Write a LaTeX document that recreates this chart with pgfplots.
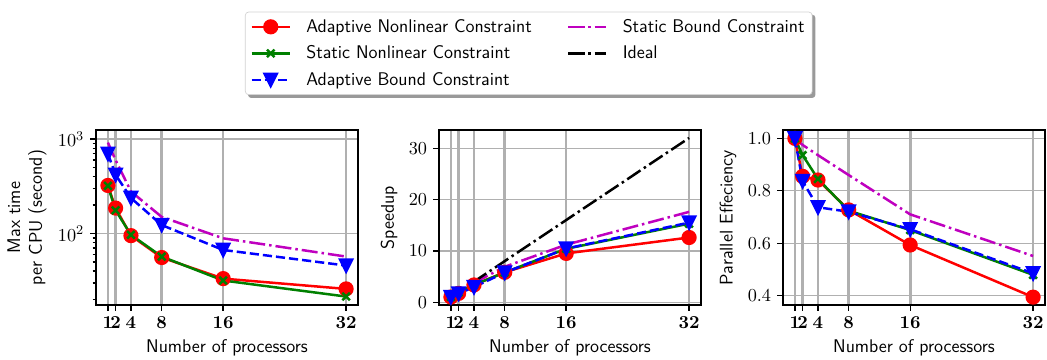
\documentclass[border=0pt]{standalone}
\usepackage{pgfplots}
\pgfplotsset{compat=1.18}
\definecolor{mplred}{rgb}{1,0,0}
\definecolor{mplgreen}{rgb}{0,0.5,0}
\definecolor{mplblue}{rgb}{0,0,1}
\definecolor{mplmag}{rgb}{0.75,0,0.75}
\definecolor{gridgray}{RGB}{176,176,176}
\pgfdeclarelayer{background}
\pgfsetlayers{background,main}
\pgfdeclareplotmark{mpltridown}{%
  \pgfpathmoveto{\pgfqpoint{0pt}{-\pgfplotmarksize}}%
  \pgfpathlineto{\pgfqpoint{-\pgfplotmarksize}{\pgfplotmarksize}}%
  \pgfpathlineto{\pgfqpoint{\pgfplotmarksize}{\pgfplotmarksize}}%
  \pgfpathclose\pgfusepathqfillstroke}
\pgfplotsset{
  legend image code/.code={\draw[mark repeat=2,mark phase=2,#1] plot coordinates {(0pt,0pt)(11.5pt,0pt)(23pt,0pt)};},
}
\pgfplotsset{
  myaxis/.style={
    scale only axis, width=157.2pt, height=105pt,
    xmin=-0.55, xmax=33.55,
    xtick={1,2,4,8,16,32},
    xticklabels={$\mathbf{1}$,$\mathbf{2}$,$\mathbf{4}$,$\mathbf{8}$,$\mathbf{16}$,$\mathbf{32}$},
    tick align=outside, tick pos=left,
    major tick length=3.6pt, minor tick length=2pt,
    tick style={black, line width=0.8pt},
    xmajorgrids=true, ymajorgrids=true,
    major x grid style={gridgray, line width=1.6pt},
    major y grid style={gridgray, line width=0.8pt},
    axis line style={line width=0.8pt},
    tick label style={font=\fontsize{11}{13}\selectfont},
    label style={font=\sffamily\fontsize{11}{13}\selectfont},
    xlabel={Number of processors},
  },
  sred/.style={color=mplred, line width=1.5pt, solid, mark=*, mark size=3.8pt},
  sgreen/.style={color=mplgreen, line width=1.5pt, solid, mark=x, mark size=3.2pt},
  sblue/.style={color=mplblue, line width=1.5pt, dash pattern=on 5.5pt off 2.4pt, mark=mpltridown, mark size=3.6pt, mark options={solid}},
  smag/.style={color=mplmag, line width=1.5pt, dash pattern=on 9.6pt off 2.4pt on 1.5pt off 2.4pt},
  sblack/.style={color=black, line width=1.5pt, dash pattern=on 9.6pt off 2.4pt on 1.5pt off 2.4pt},
}
\begin{document}
\begin{tikzpicture}
\useasboundingbox (0,0) rectangle (628.2pt,216pt);
% Panel 1
\begin{axis}[myaxis, at={(57.6pt,33pt)}, anchor=south west,
  ymode=log, ymin=17.5, ymax=1250,
  ylabel={Max time\\per CPU (second)}, ylabel style={align=center}]
\addplot[sred] coordinates {(1,323)(2,186)(4,95)(8,55.7)(16,33.3)(32,25.9)};
\addplot[sgreen] coordinates {(1,320)(2,176)(4,97)(8,57)(16,31.8)(32,21.5)};
\addplot[sblue] coordinates {(1,700)(2,419)(4,238)(8,123)(16,67)(32,45.8)};
\addplot[smag] coordinates {(1,920)(2,600)(4,279)(8,150)(16,89)(32,57)};
\end{axis}
% Panel 2
\begin{axis}[myaxis, at={(263.4pt,33pt)}, anchor=south west,
  ymin=-0.55, ymax=33.55, ytick={0,10,20,30},
  ylabel={Speedup},
  legend columns=2,
  legend cell align=left,
  legend style={name=leg, at={(-0.7405,1.676)}, anchor=north west, draw=gray!35,
    rounded corners=2pt, font=\sffamily\fontsize{11}{13}\selectfont,
    inner xsep=3pt, inner ysep=2.7pt, row sep=3.6pt,
    nodes={inner sep=1.5pt},
    /tikz/every odd column/.append style={column sep=7.6pt},
    /tikz/every even column/.append style={column sep=19.5pt}}]
\addlegendimage{sred}\addlegendentry{Adaptive Nonlinear Constraint}
\addlegendimage{smag}\addlegendentry{Static Bound Constraint}
\addlegendimage{sgreen}\addlegendentry{Static Nonlinear Constraint}
\addlegendimage{sblack}\addlegendentry{Ideal}
\addlegendimage{sblue}\addlegendentry{Adaptive Bound Constraint}
\addplot[sred, forget plot] coordinates {(1,1)(2,1.71)(4,3.36)(8,5.82)(16,9.5)(32,12.6)};
\addplot[sgreen, forget plot] coordinates {(1,1)(2,1.87)(4,3.38)(8,5.79)(16,10.4)(32,15.3)};
\addplot[sblue, forget plot] coordinates {(1,1)(2,1.67)(4,2.95)(8,5.76)(16,10.45)(32,15.5)};
\addplot[smag, forget plot] coordinates {(1,1)(2,1.95)(4,3.75)(8,6.9)(16,11.2)(32,17.6)};
\addplot[sblack, forget plot] coordinates {(1,1)(2,2)(4,4)(8,8)(16,16)(32,32)};
\end{axis}
% Panel 3
\begin{axis}[myaxis, at={(469.8pt,33pt)}, anchor=south west,
  ymin=0.364, ymax=1.032, ytick={0.4,0.6,0.8,1.0},
  yticklabel style={/pgf/number format/.cd, fixed, fixed zerofill, precision=1},
  ylabel={Parallel Effeciency}]
\addplot[sred] coordinates {(1,1)(2,0.855)(4,0.841)(8,0.727)(16,0.593)(32,0.394)};
\addplot[sgreen] coordinates {(1,1)(2,0.936)(4,0.845)(8,0.724)(16,0.65)(32,0.479)};
\addplot[sblue] coordinates {(1,1)(2,0.837)(4,0.737)(8,0.72)(16,0.653)(32,0.485)};
\addplot[smag] coordinates {(1,1)(2,0.975)(4,0.936)(8,0.86)(16,0.71)(32,0.551)};
\end{axis}
\begin{pgfonlayer}{background}
\fill[gray!80, rounded corners=2pt] ([shift={(1.8pt,-1.8pt)}]leg.south west) rectangle ([shift={(1.8pt,-1.8pt)}]leg.north east);
\end{pgfonlayer}
\end{tikzpicture}
\end{document}
